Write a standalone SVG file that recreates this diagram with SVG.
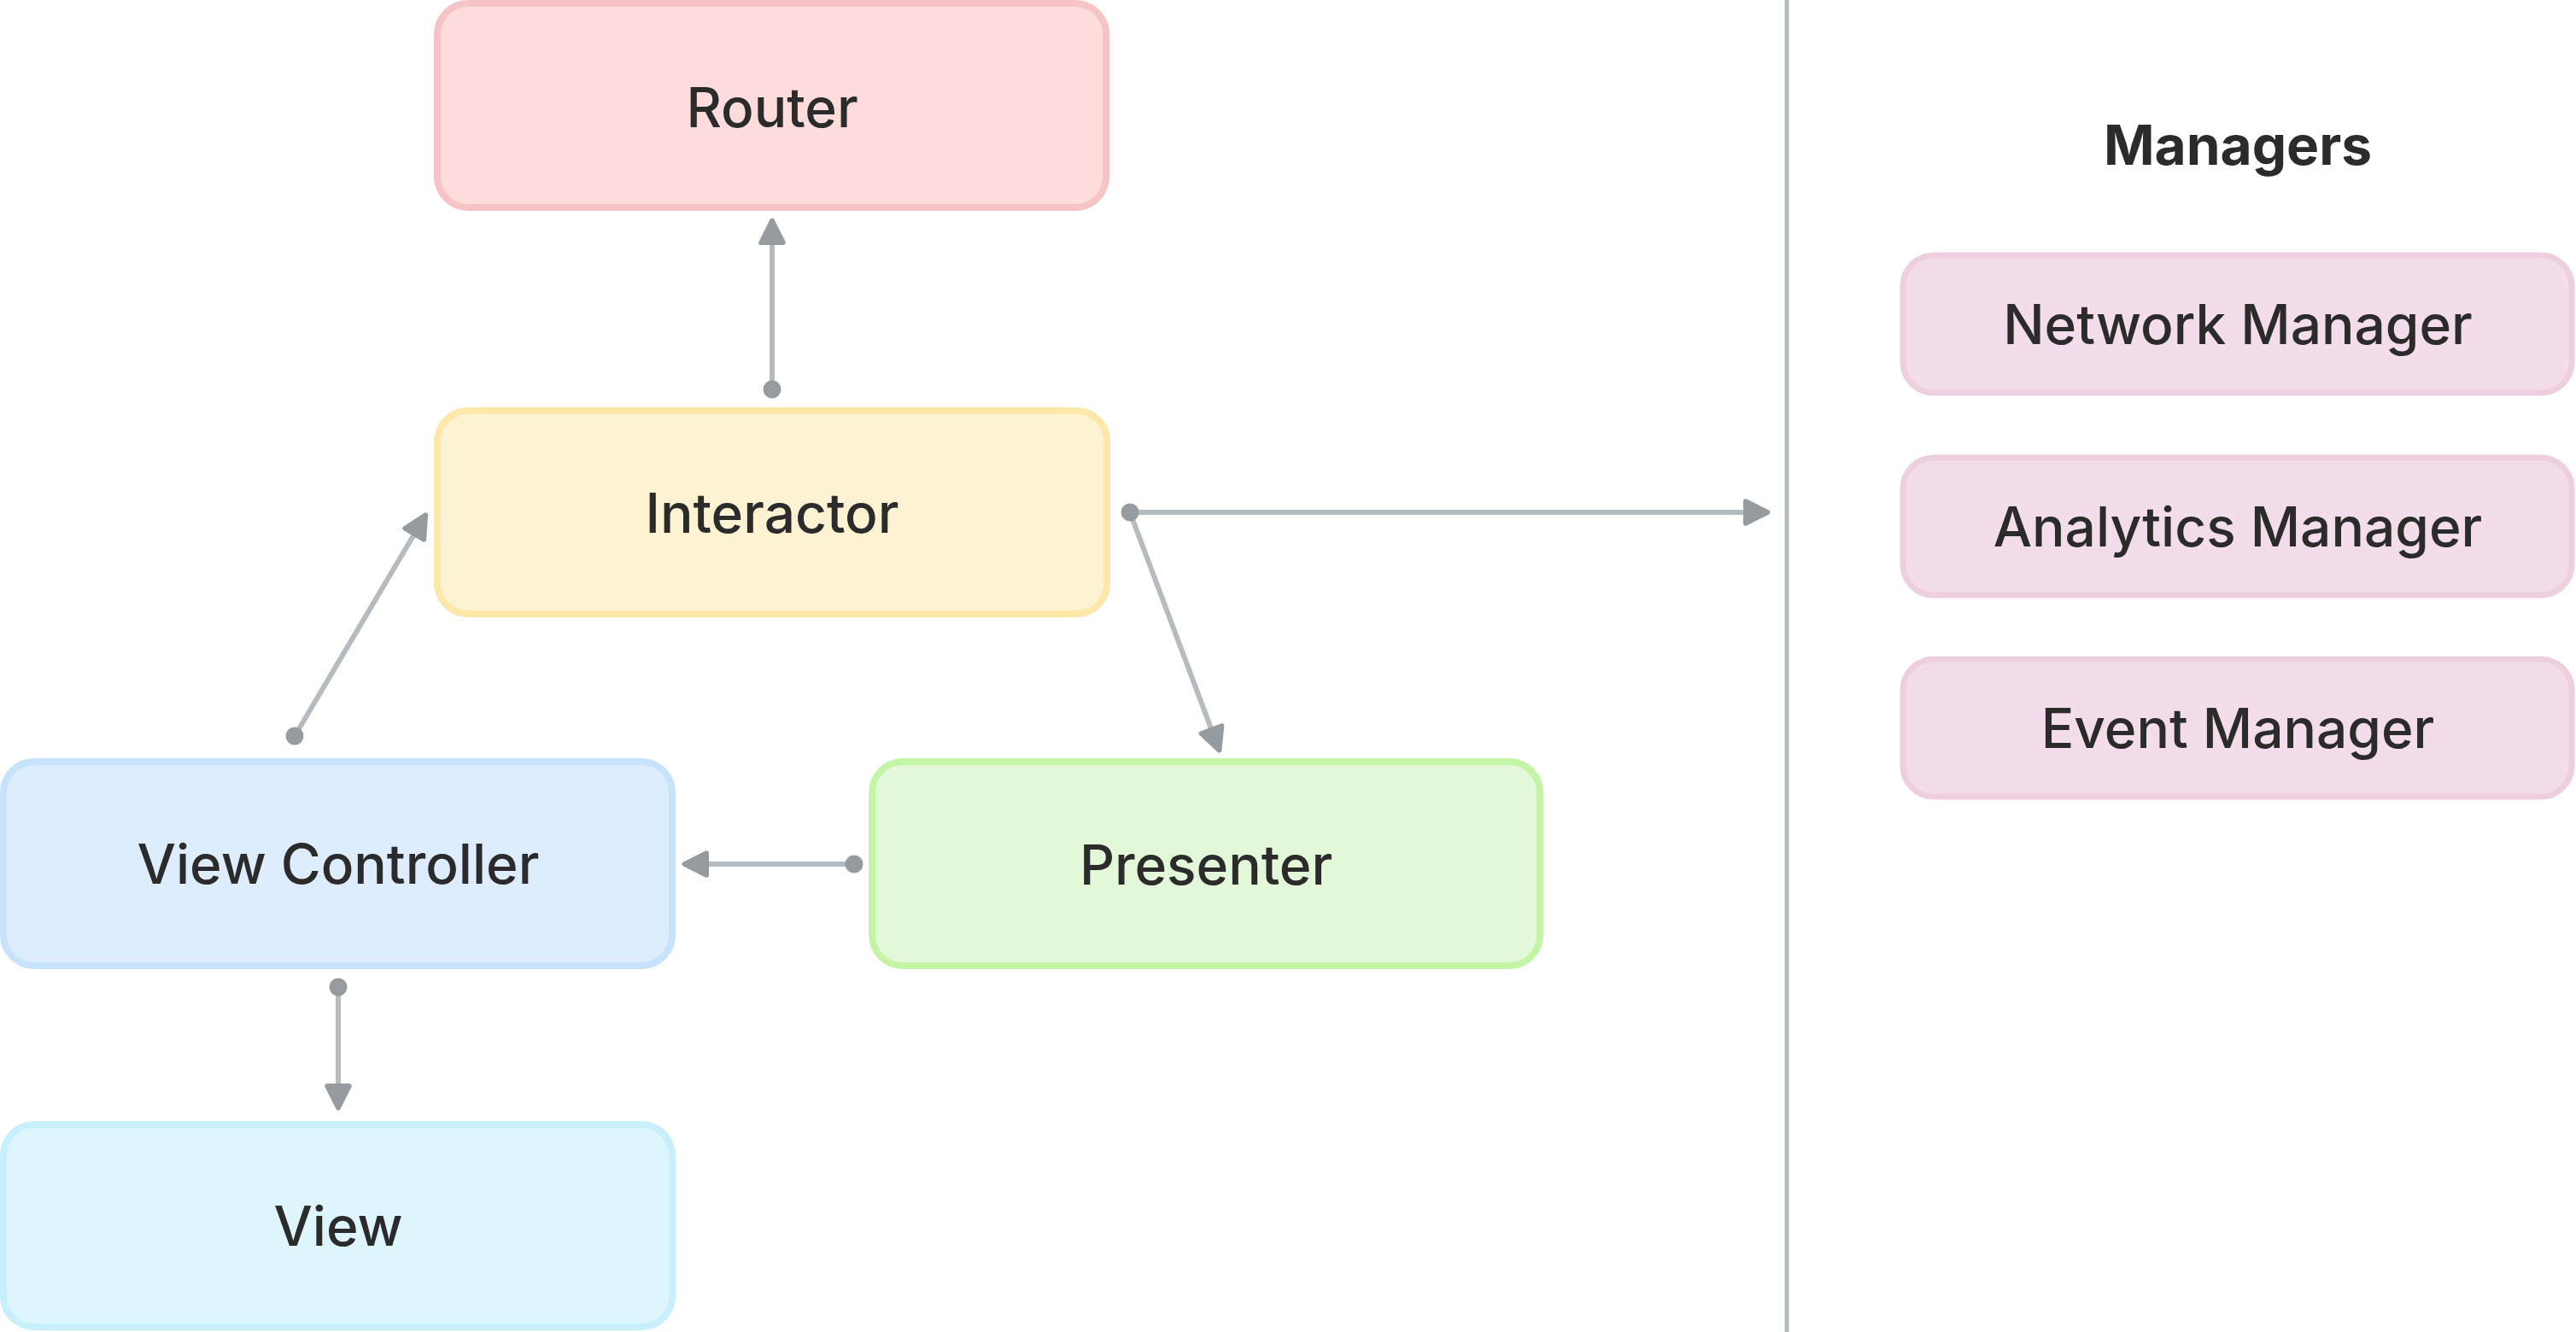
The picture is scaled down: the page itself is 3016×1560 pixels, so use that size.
<svg xmlns="http://www.w3.org/2000/svg" width="3016" height="1560" viewBox="0 0 3016 1560">
<style>
.node rect{stroke-width:8}
.mgr rect{stroke-width:7;fill:#F4DDEA;stroke:#EDCFE0}
text{font-family:Inter,"Noto Sans","Liberation Sans",sans-serif;font-size:64px;font-weight:500;fill:#2B2B2B;text-anchor:middle}
.title{font-weight:700}
.conn line{stroke:#B5BCC0;stroke-width:6;fill:none}
.conn circle{fill:#959B9E}
</style>
<defs>
<marker id="ah" markerUnits="userSpaceOnUse" markerWidth="40" markerHeight="40" viewBox="-24 -14 28 28" refX="0" refY="0" orient="auto">
<path d="M-19,-9 L-1,0 L-19,9 Z" fill="#959B9E" stroke="#959B9E" stroke-width="4" stroke-linejoin="round"/>
</marker>
</defs>
<rect width="3016" height="1560" fill="#FFFFFF"/>
<line x1="2092" y1="0" x2="2092" y2="1560" stroke="#B5BCC0" stroke-width="5"/>
<g class="conn">
<line x1="904" y1="456" x2="904" y2="257" marker-end="url(#ah)"/>
<circle cx="904" cy="456" r="10.5"/>
<line x1="345" y1="862" x2="499" y2="602" marker-end="url(#ah)"/>
<circle cx="345" cy="862" r="10.5"/>
<line x1="1323" y1="600" x2="2071" y2="600" marker-end="url(#ah)"/>
<line x1="1323" y1="600" x2="1428" y2="880" marker-end="url(#ah)"/>
<circle cx="1323" cy="600" r="10.5"/>
<line x1="1000" y1="1012" x2="800" y2="1012" marker-end="url(#ah)"/>
<circle cx="1000" cy="1012" r="10.5"/>
<line x1="396" y1="1156" x2="396" y2="1299" marker-end="url(#ah)"/>
<circle cx="396" cy="1156" r="10.5"/>
</g>
<g id="router" class="node"><rect x="512" y="4" width="783" height="239" rx="36" fill="#FEDCDC" stroke="#F6C4C6"/><text x="904" y="149">Router</text></g>
<g id="interactor" class="node"><rect x="512" y="481" width="784" height="238" rx="36" fill="#FDF3D3" stroke="#FDE7A9"/><text x="904" y="624">Interactor</text></g>
<g id="view-controller" class="node"><rect x="4" y="892" width="783" height="239" rx="36" fill="#DEEDFD" stroke="#C7E2FD"/><text x="396" y="1035">View Controller</text></g>
<g id="presenter" class="node"><rect x="1021" y="892" width="782" height="239" rx="36" fill="#E3F8D9" stroke="#C4F5A7"/><text x="1412" y="1036">Presenter</text></g>
<g id="view" class="node"><rect x="4" y="1317" width="783" height="237" rx="36" fill="#DDF6FD" stroke="#C8EFFC"/><text x="396" y="1459">View</text></g>
<g id="managers-title"><text class="title" x="2620" y="193">Managers</text></g>
<g id="network-manager" class="mgr"><rect x="2228" y="299" width="783" height="161" rx="36"/><text x="2620" y="403">Network Manager</text></g>
<g id="analytics-manager" class="mgr"><rect x="2228" y="536" width="783" height="161" rx="36"/><text x="2620" y="640">Analytics Manager</text></g>
<g id="event-manager" class="mgr"><rect x="2228" y="772" width="783" height="161" rx="36"/><text x="2620" y="876">Event Manager</text></g>
</svg>
